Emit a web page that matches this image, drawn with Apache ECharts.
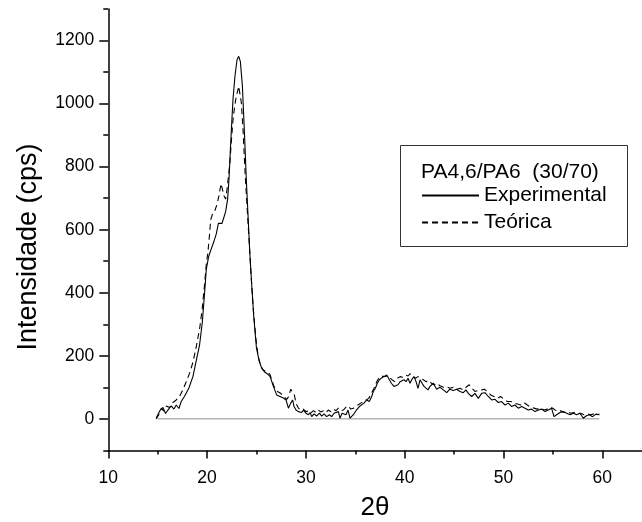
<!DOCTYPE html>
<html>
<head>
<meta charset="utf-8">
<script src="https://cdn.jsdelivr.net/npm/echarts@6/dist/echarts.min.js"></script>
<style>html,body{margin:0;padding:0;background:#fff;}#c{width:642px;height:522px;}</style>
</head>
<body>
<div id="c"></div>
<script>
// ---- data ----
const expTheta = [14.85,15.02,15.26,15.53,15.8,16.03,16.37,16.64,16.88,17.15,17.38,17.72,18.16,18.57,18.9,19.24,19.51,19.75,19.92,20.16,20.43,20.66,20.93,21.14,21.34,21.51,21.68,21.88,22.08,22.22,22.35,22.49,22.62,22.83,23.03,23.2,23.37,23.57,23.77,23.98,24.15,24.31,24.52,24.72,24.99,25.26,25.53,25.84,26.1,26.37,26.71,27.04,27.38,27.72,27.99,28.23,28.46,28.66,28.8,29.0,29.24,29.58,29.74,30.01,30.25,30.42,30.59,30.82,31.09,31.36,31.6,31.84,32.1,32.38,32.61,32.85,33.05,33.29,33.45,33.66,33.86,34.06,34.26,34.47,34.67,34.87,35.07,35.28,35.48,35.68,35.88,36.15,36.42,36.66,36.83,37.03,37.23,37.44,37.64,37.84,38.04,38.25,38.45,38.65,38.92,39.12,39.33,39.53,39.73,39.93,40.14,40.34,40.54,40.74,40.95,41.15,41.35,41.55,41.76,41.96,42.16,42.36,42.56,42.9,43.23,43.57,43.91,44.25,44.58,44.92,45.26,45.6,45.93,46.2,46.44,46.78,47.11,47.45,47.79,48.13,48.46,48.8,49.14,49.48,49.81,50.15,50.49,50.83,51.16,51.5,51.84,52.18,52.51,52.85,53.19,53.53,53.86,54.2,54.54,54.87,55.11,55.38,55.72,56.06,56.39,56.73,57.07,57.4,57.74,58.08,58.35,58.69,59.02,59.36,59.7];
const expIntensity = [3,9,28,36,17,28,41,31,44,33,55,72,98,135,185,235,305,400,475,515,540,560,587,620,626,620,637,658,697,762,850,937,1013,1090,1139,1150,1133,1057,915,751,642,533,424,325,227,185,160,148,143,135,103,76,71,66,60,34,50,60,39,28,23,20,28,18,13,20,7,16,9,18,9,16,7,13,7,18,13,23,2,18,23,13,28,2,7,16,26,34,41,37,50,60,55,71,87,97,113,124,126,134,129,136,124,113,103,97,108,118,113,124,118,129,113,126,134,118,97,124,113,103,108,92,103,113,94,100,92,83,94,90,94,87,83,92,81,71,81,65,81,83,71,60,62,52,55,44,50,39,44,34,39,34,28,31,23,28,31,23,28,34,7,13,20,23,18,13,18,13,18,2,9,13,7,15,13];

const teoTheta = [14.85,15.12,15.36,15.6,15.86,16.2,16.54,16.88,17.22,17.55,17.89,18.23,18.57,18.9,19.24,19.51,19.75,19.92,20.09,20.26,20.36,20.53,20.77,21.0,21.2,21.41,21.54,21.71,21.88,22.02,22.15,22.29,22.46,22.62,22.79,22.96,23.1,23.2,23.3,23.47,23.64,23.84,24.04,24.25,24.45,24.65,24.92,25.16,25.4,25.67,25.94,26.17,26.37,26.77,27.11,27.45,27.79,28.06,28.26,28.46,28.66,28.83,29.0,29.24,29.47,29.74,30.01,30.25,30.49,30.76,31.03,31.26,31.5,31.77,32.04,32.27,32.51,32.78,33.05,33.29,33.52,33.79,34.06,34.3,34.53,34.8,35.07,35.31,35.55,35.82,36.09,36.36,36.63,36.9,37.17,37.37,37.64,37.91,38.18,38.45,38.72,38.99,39.26,39.53,39.8,40.07,40.34,40.54,40.81,41.08,41.35,41.62,41.89,42.16,42.43,42.7,42.97,43.24,43.57,43.91,44.25,44.58,44.92,45.26,45.6,45.93,46.27,46.54,46.81,47.11,47.45,47.79,48.06,48.36,48.7,49.04,49.37,49.71,50.05,50.39,50.73,51.06,51.4,51.74,52.07,52.41,52.75,53.09,53.42,53.76,54.1,54.44,54.77,55.11,55.45,55.79,56.12,56.46,56.8,57.14,57.47,57.81,58.15,58.49,58.83,59.16,59.5,59.7];
const teoIntensity = [0,14,33,25,41,36,52,60,72,92,118,145,180,228,285,350,430,490,530,590,631,648,659,680,708,746,746,708,697,729,729,806,882,948,992,1024,1041,1055,1051,1002,915,784,675,566,456,358,260,200,170,155,150,148,140,103,87,81,71,62,71,94,100,76,50,34,28,31,23,25,18,26,20,28,22,26,20,28,23,31,26,34,26,28,37,41,31,34,39,45,50,55,60,65,81,97,118,129,136,134,139,132,124,118,129,134,132,139,136,143,136,129,134,129,124,118,122,113,108,113,105,100,102,97,100,94,97,92,102,108,97,87,90,92,94,87,76,71,65,71,62,55,55,50,47,44,52,44,37,34,31,34,28,31,37,31,23,26,20,23,18,20,16,18,13,16,13,16,13,15];

const baselineTheta = [15, 59.7];
const baselineIntensity = [0, 0];

const xLabelTicks = [10, 20, 30, 40, 50, 60];
const xMinorTicks = [10, 15, 20, 25, 30, 35, 40, 45, 50, 55, 60];
const yLabelTicks = [0, 200, 400, 600, 800, 1000, 1200];
const yMinorTicks = [-100, 0, 100, 200, 300, 400, 500, 600, 700, 800, 900, 1000, 1100, 1200, 1300];

const legendTitle = 'PA4,6/PA6  (30/70)';
const seriesNames = ['Experimental', 'Teórica'];
const xName = '2θ';
const yName = 'Intensidade (cps)';

// ---- build ----
const zip = (a, b) => a.map((v, i) => [v, b[i]]);
const FF = '"Liberation Sans", Arial, sans-serif';
const black = '#000';
const tickStyle = { color: black, width: 1.5 };
const plain = v => String(v);

const chart = echarts.init(document.getElementById('c'), null, { renderer: 'canvas' });
chart.setOption({
  animation: false,
  backgroundColor: '#fff',
  grid: { left: 108.3, top: 9, width: 533.5, height: 441.4, containLabel: false, outerBoundsMode: 'none' },
  title: {
    text: legendTitle, left: 421, top: 162, padding: 0,
    textStyle: { fontFamily: FF, fontSize: 21, fontWeight: 'normal', color: black }
  },
  legend: {
    data: seriesNames, orient: 'vertical', left: 421, top: 185, padding: 0,
    itemWidth: 57, itemHeight: 14, itemGap: 6,
    itemStyle: { opacity: 0 },
    textStyle: { fontFamily: FF, fontSize: 21, color: black }
  },
  graphic: [
    { type: 'rect', z: -1, shape: { x: 400.5, y: 145.5, width: 227, height: 101 },
      style: { fill: '#fff', stroke: '#333', lineWidth: 1 } },
    { type: 'text', x: 29, y: 247, rotation: Math.PI / 2,
      style: { text: yName, font: '27px "Liberation Sans", Arial, sans-serif', fill: black,
               textAlign: 'center', textVerticalAlign: 'middle' } }
  ],
  xAxis: [
    { type: 'value', min: 10, max: 64, position: 'bottom', offset: 0,
      axisLine: { show: true, onZero: false, lineStyle: tickStyle },
      axisTick: { show: true, customValues: xMinorTicks, length: 4, lineStyle: tickStyle },
      axisLabel: { show: false }, splitLine: { show: false } },
    { type: 'value', min: 10, max: 64, position: 'bottom', offset: 0,
      axisLine: { show: false, onZero: false },
      axisTick: { show: true, customValues: xLabelTicks, length: 8, lineStyle: tickStyle },
      axisLabel: { show: true, customValues: xLabelTicks, formatter: plain, margin: 19, color: black, fontFamily: FF, fontSize: 17.5 },
      splitLine: { show: false },
      name: xName, nameLocation: 'middle', nameGap: 44,
      nameTextStyle: { fontFamily: FF, fontSize: 26, color: black } }
  ],
  yAxis: [
    { type: 'value', min: -100, max: 1300, position: 'left', offset: 0,
      axisLine: { show: true, onZero: false, lineStyle: tickStyle },
      axisTick: { show: true, customValues: yMinorTicks, length: 5, lineStyle: tickStyle },
      axisLabel: { show: false }, splitLine: { show: false } },
    { type: 'value', min: -100, max: 1300, position: 'left', offset: 0,
      axisLine: { show: false, onZero: false },
      axisTick: { show: true, customValues: yLabelTicks, length: 9, lineStyle: tickStyle },
      axisLabel: { show: true, customValues: yLabelTicks, formatter: plain, margin: 14, color: black, fontFamily: FF, fontSize: 17.5 },
      splitLine: { show: false } }
  ],
  series: [
    { name: 'baseline', type: 'line', xAxisIndex: 0, yAxisIndex: 0, symbol: 'none', silent: true, z: 1,
      data: zip(baselineTheta, baselineIntensity), color: '#b4b4b4',
      lineStyle: { color: '#b4b4b4', width: 1.5 } },
    { name: seriesNames[0], type: 'line', xAxisIndex: 0, yAxisIndex: 0, symbol: 'none', z: 3,
      data: zip(expTheta, expIntensity), color: black,
      lineStyle: { color: black, width: 1.1, type: 'solid' } },
    { name: seriesNames[1], type: 'line', xAxisIndex: 0, yAxisIndex: 0, symbol: 'none', z: 2,
      data: zip(teoTheta, teoIntensity), color: black,
      lineStyle: { color: black, width: 1.1, type: [6, 4] } }
  ]
});
</script>
</body>
</html>
